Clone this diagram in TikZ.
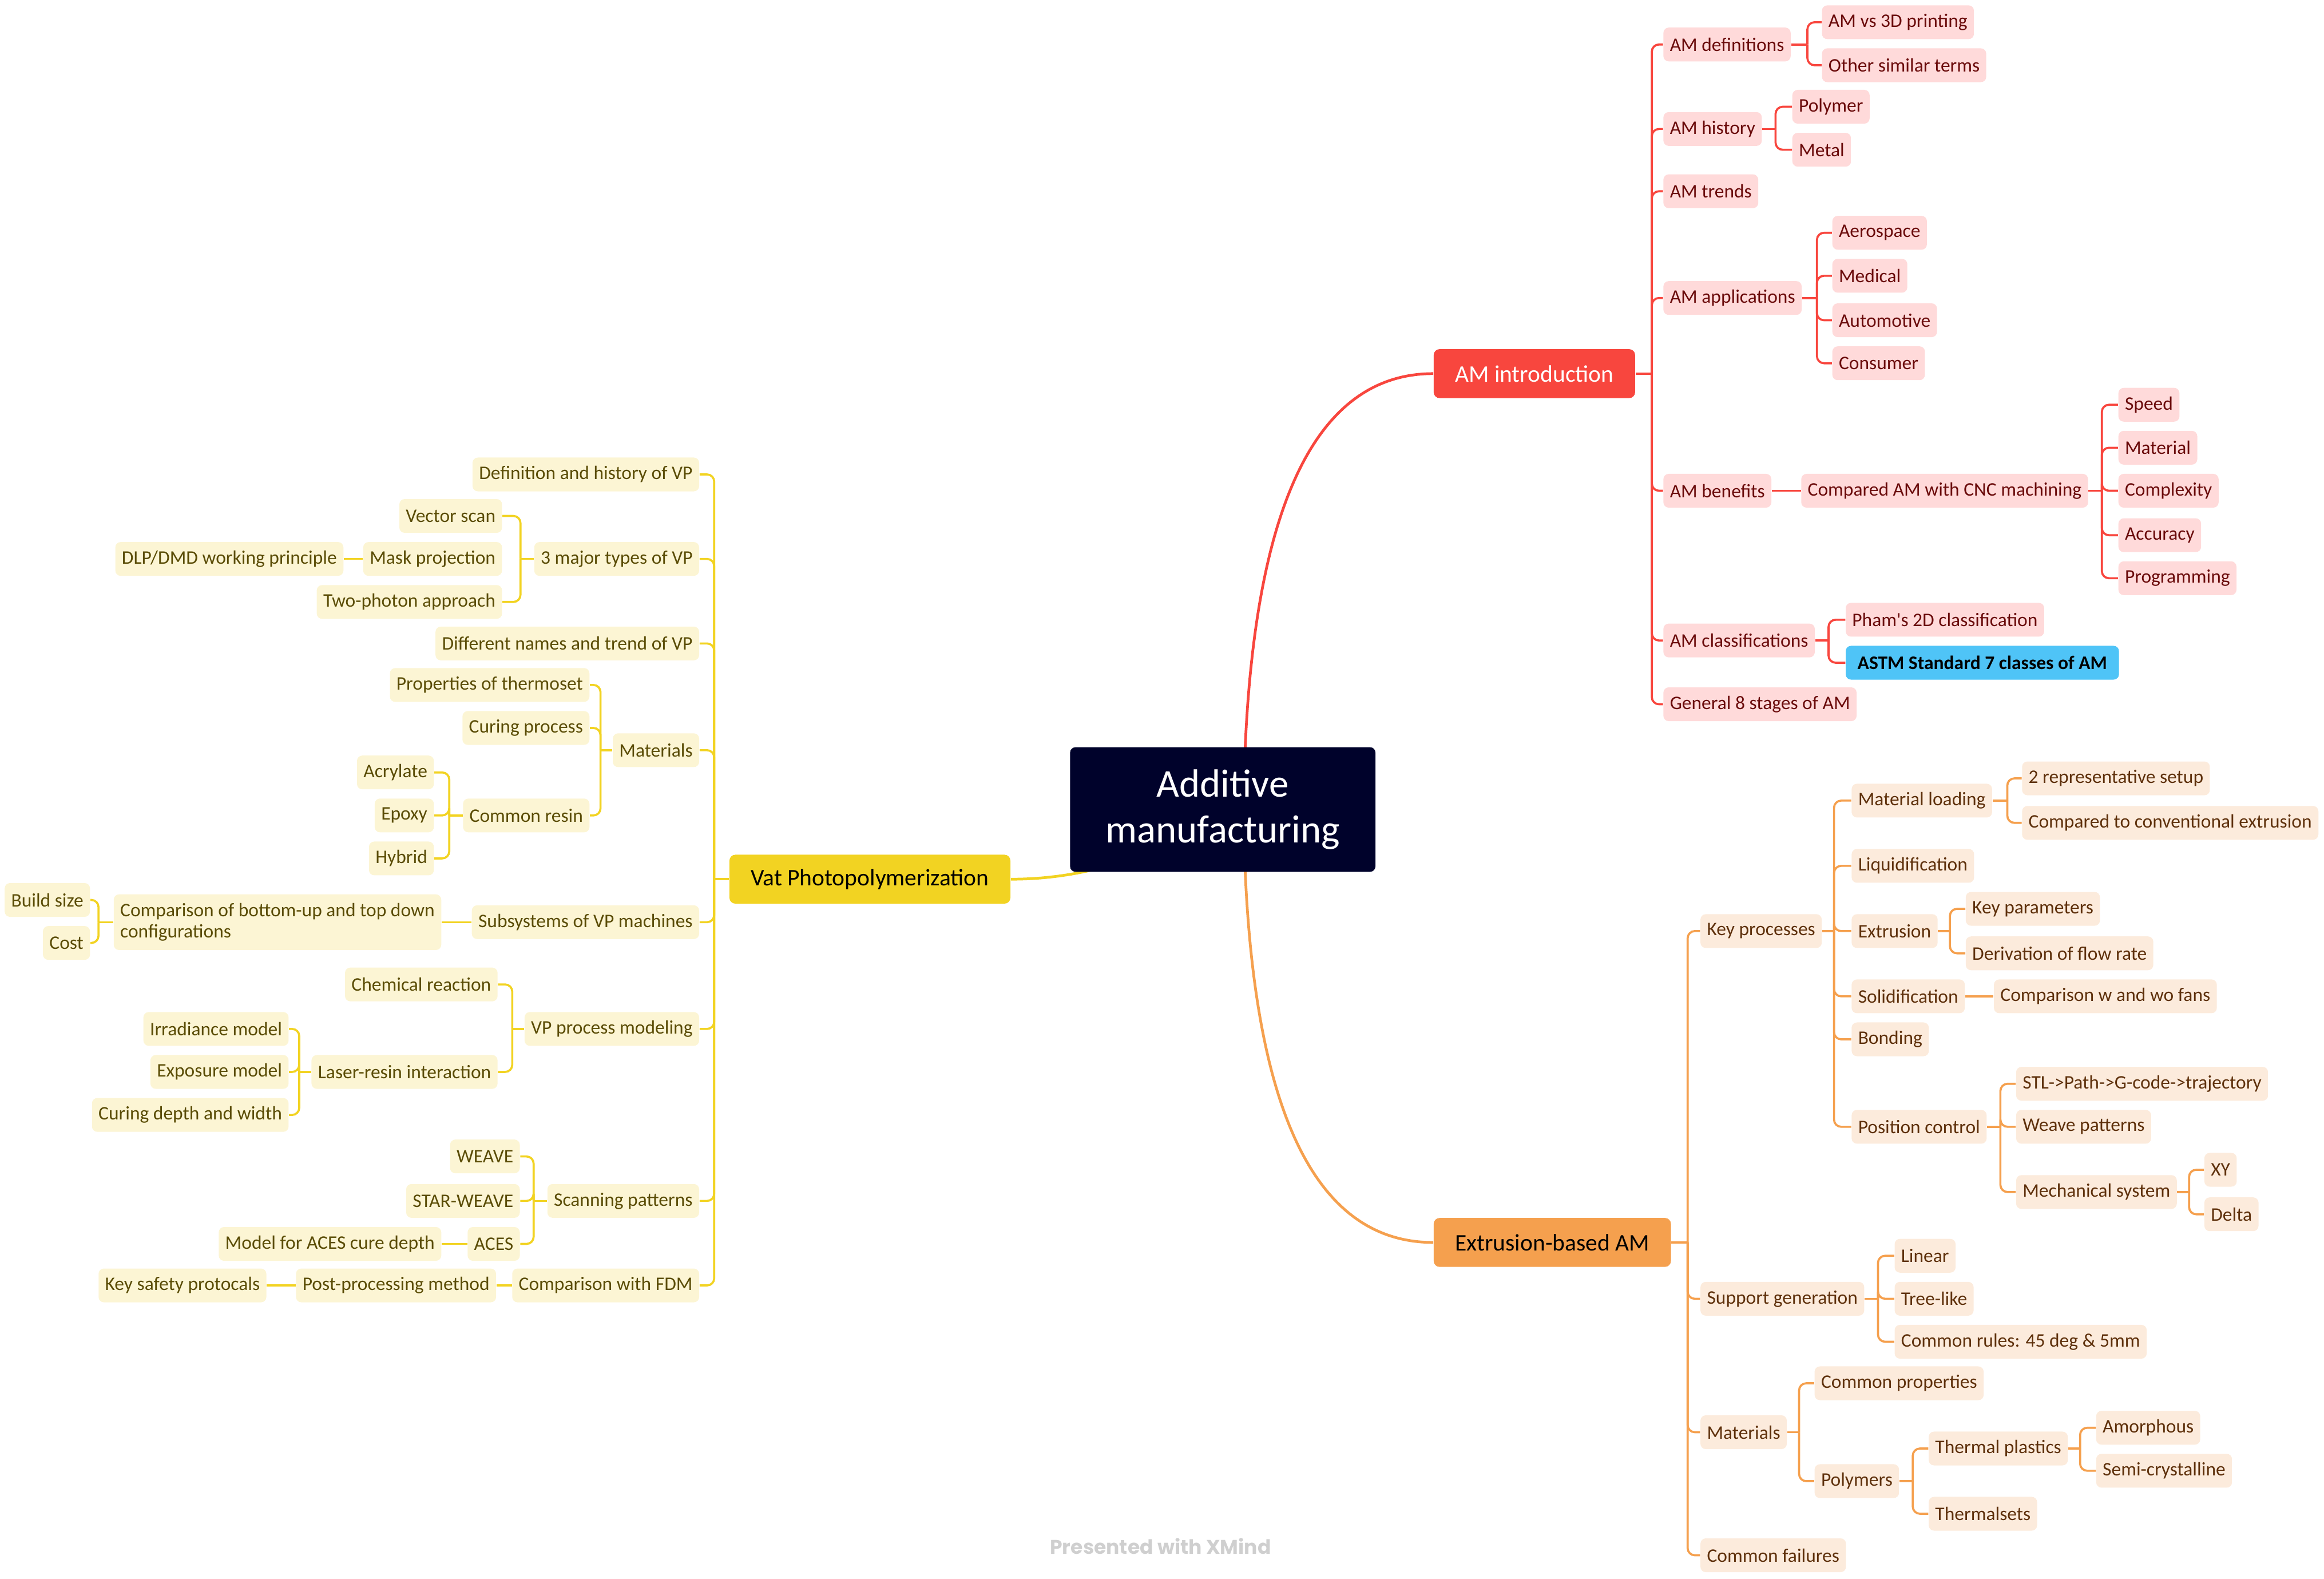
\documentclass[tikz,border=0pt]{standalone}
\usepackage{fontspec}
\setmainfont{Carlito}
\newfontfamily\markfont{Poppins}
\usepackage{tikz}
\usetikzlibrary{backgrounds}
\definecolor{rootnavy}{HTML}{00022B}
\definecolor{amred}{HTML}{F8463E}
\definecolor{redfill}{HTML}{FFDADA}
\definecolor{redtext}{HTML}{6A0A0A}
\definecolor{vpyellow}{HTML}{F2D322}
\definecolor{yelfill}{HTML}{FCF5D4}
\definecolor{yeltext}{HTML}{5A4C05}
\definecolor{exorange}{HTML}{F5A04E}
\definecolor{orfill}{HTML}{FCEBDC}
\definecolor{ortext}{HTML}{5E300B}
\definecolor{astmblue}{HTML}{4FC4F7}
\definecolor{markgrey}{HTML}{CFCFCF}
\tikzstyle{rootbox}=[rectangle,rounded corners=0.9mm,fill=rootnavy,text=white,
                     minimum width=51.5mm,minimum height=21mm,align=center,
                     font=\fontsize{18.9}{22}\selectfont]
\tikzstyle{mainbox}=[rectangle,rounded corners=1mm,minimum height=8.25mm,
                     inner xsep=3.6mm,font=\fontsize{11.4}{13}\selectfont]
\tikzstyle{redmain}=[mainbox,fill=amred,text=white]
\tikzstyle{yelmain}=[mainbox,fill=vpyellow,text=black]
\tikzstyle{ormain}=[mainbox,fill=exorange,text=black]
\tikzstyle{leaf}=[rectangle,rounded corners=0.9mm,minimum height=5.7mm,
                  inner xsep=1.1mm,inner ysep=0.5mm,font=\fontsize{9.2}{10.2}\selectfont]
\tikzstyle{redleaf}=[leaf,fill=redfill,text=redtext,anchor=west]
\tikzstyle{yelleaf}=[leaf,fill=yelfill,text=yeltext,anchor=east]
\tikzstyle{orleaf}=[leaf,fill=orfill,text=ortext,anchor=west]
\tikzstyle{redline}=[draw=amred,line width=1pt,rounded corners=1.2mm]
\tikzstyle{yelline}=[draw=vpyellow,line width=1pt,rounded corners=1.2mm]
\tikzstyle{orline}=[draw=exorange,line width=1pt,rounded corners=1.2mm]
\begin{document}
\begin{tikzpicture}[x=0.25mm,y=-0.25mm]
    \useasboundingbox (0,0) rectangle (1568,1065);
    % centre and the three branches
    \node[rootbox] (am) at (825,546) {Additive\\manufacturing};
    \node[redmain,anchor=west] (intro) at (967,252) {AM introduction};
    \node[yelmain,anchor=east] (vp) at (682,593) {Vat Photopolymerization};
    \node[ormain,anchor=west] (ext) at (967,838) {Extrusion-based AM};
    \begin{scope}[on background layer]
      \draw[amred,line width=1.3pt] ([xshift=3.5mm]am.center) .. controls (841,350) and (884,252) .. (intro.west);
      \draw[exorange,line width=1.3pt] ([xshift=3.5mm]am.center) .. controls (841,742) and (884,838) .. (ext.west);
      \draw[vpyellow,line width=1.3pt] (am.center) .. controls (782,577) and (734,593) .. (vp.east);
    \end{scope}

    % AM introduction
    \node[redleaf] (amdef) at (1122,30) {AM definitions};
    \node[redleaf] (amhist) at (1122,87) {AM history};
    \node[redleaf] (amtrend) at (1122,129) {AM trends};
    \node[redleaf] (amapp) at (1122,201) {AM applications};
    \node[redleaf] (amben) at (1122,331) {AM benefits};
    \node[redleaf] (amclass) at (1122,432) {AM classifications};
    \node[redleaf] (amstage) at (1122,475) {General 8 stages of AM};
    \node[redleaf] (vs3d) at (1229,15) {AM vs 3D printing};
    \node[redleaf] (similar) at (1229,44) {Other similar terms};
    \node[redleaf] (polymer) at (1209,72) {Polymer};
    \node[redleaf] (metal) at (1209,101) {Metal};
    \node[redleaf] (aero) at (1236,157) {Aerospace};
    \node[redleaf] (medical) at (1236,186) {Medical};
    \node[redleaf] (auto) at (1236,216) {Automotive};
    \node[redleaf] (consumer) at (1236,245) {Consumer};
    \node[redleaf] (cnc) at (1215,331) {Compared AM with CNC machining};
    \node[redleaf] (speed) at (1429,273) {Speed};
    \node[redleaf] (material) at (1429,302) {Material};
    \node[redleaf] (complex) at (1429,331) {Complexity};
    \node[redleaf] (accuracy) at (1429,361) {Accuracy};
    \node[redleaf] (program) at (1429,390) {Programming};
    \node[redleaf] (pham) at (1245,418) {Pham\textquotesingle s 2D classification};
    \node[leaf,anchor=west,fill=astmblue,text=black,inner xsep=2mm,font=\fontsize{9.2}{10.2}\selectfont\bfseries] (astm) at (1245,447) {ASTM Standard 7 classes of AM};

    \draw[redline] (intro.east) -- ++(11,0);
    \draw[redline] (intro.east) ++(11,0) |- (amdef.west);
    \draw[redline] (intro.east) ++(11,0) |- (amhist.west);
    \draw[redline] (intro.east) ++(11,0) |- (amtrend.west);
    \draw[redline] (intro.east) ++(11,0) |- (amapp.west);
    \draw[redline] (intro.east) ++(11,0) |- (amben.west);
    \draw[redline] (intro.east) ++(11,0) |- (amclass.west);
    \draw[redline] (intro.east) ++(11,0) |- (amstage.west);
    \draw[redline] (amdef.east) -- ++(11,0);
    \draw[redline] (amdef.east) ++(11,0) |- (vs3d.west);
    \draw[redline] (amdef.east) ++(11,0) |- (similar.west);
    \draw[redline] (amhist.east) -- ++(9,0);
    \draw[redline] (amhist.east) ++(9,0) |- (polymer.west);
    \draw[redline] (amhist.east) ++(9,0) |- (metal.west);
    \draw[redline] (amapp.east) -- ++(10,0);
    \draw[redline] (amapp.east) ++(10,0) |- (aero.west);
    \draw[redline] (amapp.east) ++(10,0) |- (medical.west);
    \draw[redline] (amapp.east) ++(10,0) |- (auto.west);
    \draw[redline] (amapp.east) ++(10,0) |- (consumer.west);
    \draw[redline] (amben.east) -- (cnc.west);
    \draw[redline] (cnc.east) -- ++(9,0);
    \draw[redline] (cnc.east) ++(9,0) |- (speed.west);
    \draw[redline] (cnc.east) ++(9,0) |- (material.west);
    \draw[redline] (cnc.east) ++(9,0) |- (complex.west);
    \draw[redline] (cnc.east) ++(9,0) |- (accuracy.west);
    \draw[redline] (cnc.east) ++(9,0) |- (program.west);
    \draw[redline] (amclass.east) -- ++(9,0);
    \draw[redline] (amclass.east) ++(9,0) |- (pham.west);
    \draw[redline] (amclass.east) ++(9,0) |- (astm.west);

    % Vat Photopolymerization
    \node[yelleaf] (defvp) at (472,320) {Definition and history of VP};
    \node[yelleaf] (types) at (472,377) {3 major types of VP};
    \node[yelleaf] (names) at (472,434) {Different names and trend of VP};
    \node[yelleaf] (vpmat) at (472,506) {Materials};
    \node[yelleaf] (subsys) at (472,622) {Subsystems of VP machines};
    \node[yelleaf] (model) at (472,694) {VP process modeling};
    \node[yelleaf] (scan) at (472,810) {Scanning patterns};
    \node[yelleaf] (fdm) at (472,867) {Comparison with FDM};
    \node[yelleaf] (vector) at (339,348) {Vector scan};
    \node[yelleaf] (mask) at (339,377) {Mask projection};
    \node[yelleaf] (twoph) at (339,406) {Two-photon approach};
    \node[yelleaf] (dlp) at (232,377) {DLP/DMD working principle};
    \node[yelleaf] (thermo) at (398,462) {Properties of thermoset};
    \node[yelleaf] (curing) at (398,491) {Curing process};
    \node[yelleaf] (resin) at (398,550) {Common resin};
    \node[yelleaf] (acryl) at (293,521) {Acrylate};
    \node[yelleaf] (epoxy) at (293,550) {Epoxy};
    \node[yelleaf] (hybrid) at (293,579) {Hybrid};
    \node[yelleaf,align=left,inner ysep=1.5mm] (updown) at (298,622) {Comparison of bottom-up and top down\\configurations};
    \node[yelleaf] (bsize) at (61,607) {Build size};
    \node[yelleaf] (cost) at (61,636) {Cost};
    \node[yelleaf] (chem) at (336,664) {Chemical reaction};
    \node[yelleaf] (laser) at (336,723) {Laser-resin interaction};
    \node[yelleaf] (irrad) at (195,694) {Irradiance model};
    \node[yelleaf] (expo) at (195,723) {Exposure model};
    \node[yelleaf] (depth) at (195,752) {Curing depth and width};
    \node[yelleaf] (weave) at (351,780) {WEAVE};
    \node[yelleaf] (star) at (351,810) {STAR-WEAVE};
    \node[yelleaf] (aces) at (351,839) {ACES};
    \node[yelleaf] (acesmod) at (298,839) {Model for ACES cure depth};
    \node[yelleaf] (post) at (335,867) {Post-processing method};
    \node[yelleaf] (safety) at (180,867) {Key safety protocals};

    \draw[yelline] (vp.west) -- ++(-10,0);
    \draw[yelline] (vp.west) ++(-10,0) |- (defvp.east);
    \draw[yelline] (vp.west) ++(-10,0) |- (types.east);
    \draw[yelline] (vp.west) ++(-10,0) |- (names.east);
    \draw[yelline] (vp.west) ++(-10,0) |- (vpmat.east);
    \draw[yelline] (vp.west) ++(-10,0) |- (subsys.east);
    \draw[yelline] (vp.west) ++(-10,0) |- (model.east);
    \draw[yelline] (vp.west) ++(-10,0) |- (scan.east);
    \draw[yelline] (vp.west) ++(-10,0) |- (fdm.east);
    \draw[yelline] (types.west) -- ++(-9,0);
    \draw[yelline] (types.west) ++(-9,0) |- (vector.east);
    \draw[yelline] (types.west) ++(-9,0) |- (twoph.east);
    \draw[yelline] (mask.west) -- (dlp.east);
    \draw[yelline] (vpmat.west) -- ++(-8,0);
    \draw[yelline] (vpmat.west) ++(-8,0) |- (thermo.east);
    \draw[yelline] (vpmat.west) ++(-8,0) |- (curing.east);
    \draw[yelline] (vpmat.west) ++(-8,0) |- (resin.east);
    \draw[yelline] (resin.west) -- ++(-9,0);
    \draw[yelline] (resin.west) ++(-9,0) |- (acryl.east);
    \draw[yelline] (resin.west) ++(-9,0) |- (epoxy.east);
    \draw[yelline] (resin.west) ++(-9,0) |- (hybrid.east);
    \draw[yelline] (subsys.west) -- (updown.east);
    \draw[yelline] (updown.west) -- ++(-10,0);
    \draw[yelline] (updown.west) ++(-10,0) |- (bsize.east);
    \draw[yelline] (updown.west) ++(-10,0) |- (cost.east);
    \draw[yelline] (model.west) -- ++(-8,0);
    \draw[yelline] (model.west) ++(-8,0) |- (chem.east);
    \draw[yelline] (model.west) ++(-8,0) |- (laser.east);
    \draw[yelline] (laser.west) -- ++(-8,0);
    \draw[yelline] (laser.west) ++(-8,0) |- (irrad.east);
    \draw[yelline] (laser.west) ++(-8,0) |- (expo.east);
    \draw[yelline] (laser.west) ++(-8,0) |- (depth.east);
    \draw[yelline] (scan.west) -- ++(-9,0);
    \draw[yelline] (scan.west) ++(-9,0) |- (weave.east);
    \draw[yelline] (scan.west) ++(-9,0) |- (star.east);
    \draw[yelline] (scan.west) ++(-9,0) |- (aces.east);
    \draw[yelline] (aces.west) -- (acesmod.east);
    \draw[yelline] (fdm.west) -- (post.east);
    \draw[yelline] (post.west) -- (safety.east);

    % Extrusion-based AM
    \node[orleaf] (keyproc) at (1147,628) {Key processes};
    \node[orleaf] (support) at (1147,876) {Support generation};
    \node[orleaf] (exmat) at (1147,966) {Materials};
    \node[orleaf] (fail) at (1147,1049) {Common failures};
    \node[orleaf] (load) at (1249,540) {Material loading};
    \node[orleaf] (liquid) at (1249,584) {Liquidification};
    \node[orleaf] (extr) at (1249,628) {Extrusion};
    \node[orleaf] (solid) at (1249,672) {Solidification};
    \node[orleaf] (bond) at (1249,701) {Bonding};
    \node[orleaf] (posctl) at (1249,760) {Position control};
    \node[orleaf] (setup) at (1364,525) {2 representative setup};
    \node[orleaf] (conv) at (1364,555) {Compared to conventional extrusion};
    \node[orleaf] (keypar) at (1326,613) {Key parameters};
    \node[orleaf] (flow) at (1326,643) {Derivation of flow rate};
    \node[orleaf] (fans) at (1345,672) {Comparison w and wo fans};
    \node[orleaf] (stl) at (1360,731) {STL->Path->G-code->trajectory};
    \node[orleaf] (weavep) at (1360,760) {Weave patterns};
    \node[orleaf] (mech) at (1360,804) {Mechanical system};
    \node[orleaf] (xy) at (1487,789) {XY};
    \node[orleaf] (delta) at (1487,819) {Delta};
    \node[orleaf] (linear) at (1278,847) {Linear};
    \node[orleaf] (tree) at (1278,876) {Tree-like};
    \node[orleaf] (rules) at (1278,905) {Common rules: 45 deg \& 5mm};
    \node[orleaf] (props) at (1224,933) {Common properties};
    \node[orleaf] (polys) at (1224,999) {Polymers};
    \node[orleaf] (tplast) at (1301,977) {Thermal plastics};
    \node[orleaf] (tsets) at (1301,1021) {Thermalsets};
    \node[orleaf] (amorph) at (1414,963) {Amorphous};
    \node[orleaf] (semi) at (1414,992) {Semi-crystalline};

    \draw[orline] (ext.east) -- ++(11,0);
    \draw[orline] (ext.east) ++(11,0) |- (keyproc.west);
    \draw[orline] (ext.east) ++(11,0) |- (support.west);
    \draw[orline] (ext.east) ++(11,0) |- (exmat.west);
    \draw[orline] (ext.east) ++(11,0) |- (fail.west);
    \draw[orline] (keyproc.east) -- ++(8,0);
    \draw[orline] (keyproc.east) ++(8,0) |- (load.west);
    \draw[orline] (keyproc.east) ++(8,0) |- (liquid.west);
    \draw[orline] (keyproc.east) ++(8,0) |- (extr.west);
    \draw[orline] (keyproc.east) ++(8,0) |- (solid.west);
    \draw[orline] (keyproc.east) ++(8,0) |- (bond.west);
    \draw[orline] (keyproc.east) ++(8,0) |- (posctl.west);
    \draw[orline] (load.east) -- ++(10,0);
    \draw[orline] (load.east) ++(10,0) |- (setup.west);
    \draw[orline] (load.east) ++(10,0) |- (conv.west);
    \draw[orline] (extr.east) -- ++(8,0);
    \draw[orline] (extr.east) ++(8,0) |- (keypar.west);
    \draw[orline] (extr.east) ++(8,0) |- (flow.west);
    \draw[orline] (solid.east) -- (fans.west);
    \draw[orline] (posctl.east) -- ++(9,0);
    \draw[orline] (posctl.east) ++(9,0) |- (stl.west);
    \draw[orline] (posctl.east) ++(9,0) |- (weavep.west);
    \draw[orline] (posctl.east) ++(9,0) |- (mech.west);
    \draw[orline] (mech.east) -- ++(8,0);
    \draw[orline] (mech.east) ++(8,0) |- (xy.west);
    \draw[orline] (mech.east) ++(8,0) |- (delta.west);
    \draw[orline] (support.east) -- ++(9,0);
    \draw[orline] (support.east) ++(9,0) |- (linear.west);
    \draw[orline] (support.east) ++(9,0) |- (tree.west);
    \draw[orline] (support.east) ++(9,0) |- (rules.west);
    \draw[orline] (exmat.east) -- ++(8,0);
    \draw[orline] (exmat.east) ++(8,0) |- (props.west);
    \draw[orline] (exmat.east) ++(8,0) |- (polys.west);
    \draw[orline] (polys.east) -- ++(9,0);
    \draw[orline] (polys.east) ++(9,0) |- (tplast.west);
    \draw[orline] (polys.east) ++(9,0) |- (tsets.west);
    \draw[orline] (tplast.east) -- ++(8,0);
    \draw[orline] (tplast.east) ++(8,0) |- (amorph.west);
    \draw[orline] (tplast.east) ++(8,0) |- (semi.west);

    \node[font=\markfont\bfseries\fontsize{9.5}{11}\selectfont,text=markgrey] (mark) at (783,1043) {Presented with XMind};
\end{tikzpicture}
\end{document}
